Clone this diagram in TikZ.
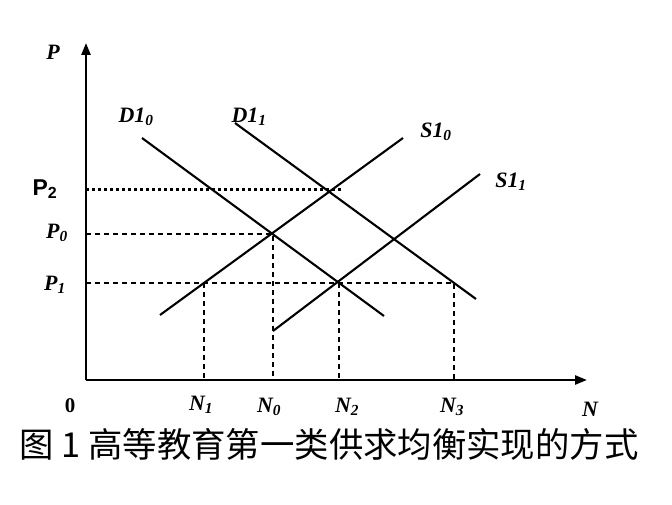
\documentclass[tikz,border=0pt]{standalone}
\usepackage{fontspec}
\setmainfont{Liberation Serif}
\newfontfamily\cjkfont{Noto Sans CJK SC}
\newfontfamily\lsans{Liberation Sans}
\usetikzlibrary{arrows.meta}
\begin{document}
\begin{tikzpicture}[x=1bp,y=-1bp,
  axisline/.style={line width=2.4bp,-{Triangle[length=12bp,width=9bp]}},
  curveline/.style={line width=2.1bp},
  guide/.style={line width=1.6bp,dash pattern=on 5bp off 4bp},
  dotguide/.style={line width=3bp,dash pattern=on 3bp off 3bp},
  lab/.style={font=\fontsize{22}{22}\selectfont\bfseries\itshape,inner sep=0pt},
  sublab/.style={font=\fontsize{23}{23}\selectfont\lsans\bfseries,inner sep=0pt},
  caption/.style={font=\fontsize{34.5}{34.5}\selectfont\cjkfont,inner sep=0pt}]
\useasboundingbox (0,0) rectangle (672,505);
\fill[white] (0,0) rectangle (672,505);
% axes
\coordinate (O) at (86,380);
\coordinate (Ytop) at (86,43);
\coordinate (Xend) at (587,380);
\draw[axisline] (O) -- (Ytop);
\draw[axisline] (O) -- (Xend);
% curves
\coordinate (D0a) at (142,138); \coordinate (D0b) at (384,316);
\coordinate (D1a) at (235,123); \coordinate (D1b) at (476,299);
\coordinate (S0a) at (160,315); \coordinate (S0b) at (403,138);
\coordinate (S1a) at (273,331); \coordinate (S1b) at (480,174);
\draw[curveline] (D0a) -- (D0b);
\draw[curveline] (D1a) -- (D1b);
\draw[curveline] (S0a) -- (S0b);
\draw[curveline] (S1a) -- (S1b);
% key points
\coordinate (A) at (204,283);
\coordinate (E0) at (273,234);
\coordinate (E2) at (339,283);
\coordinate (E3) at (454,283);
\coordinate (P2end) at (342,190);
\coordinate (yP0) at (86,234);
\coordinate (yP1) at (86,283);
\coordinate (yP2) at (86,190);
\coordinate (xN1) at (204,380);
\coordinate (xN0) at (273,380);
\coordinate (xN2) at (339,380);
\coordinate (xN3) at (454,380);
% guides
\draw[dotguide] (yP2) -- (P2end);
\draw[guide] (yP0) -- (E0) -- (xN0);
\draw[guide] (yP1) -- (E3) -- (xN3);
\draw[guide] (A) -- (xN1);
\draw[guide] (E2) -- (xN2);
% labels
\node[lab] (lP) at (53,52) {P};
\node[sublab] (lP2) at (45,189) {P\textsubscript{2}};
\node[lab] (lP0) at (57,233) {P\textsubscript{0}};
\node[lab] (lP1) at (55,285) {P\textsubscript{1}};
\node[font=\fontsize{21}{21}\selectfont\bfseries,inner sep=0pt] (l0) at (70,406) {0};
\node[lab] (lN1) at (201,405) {N\textsubscript{1}};
\node[lab] (lN0) at (269,407) {N\textsubscript{0}};
\node[lab] (lN2) at (347,407) {N\textsubscript{2}};
\node[lab] (lN3) at (452,407) {N\textsubscript{3}};
\node[lab] (lN) at (590,409) {N};
\node[lab] (lD0) at (136,117) {D1\textsubscript{0}};
\node[lab] (lD1) at (249,117) {D1\textsubscript{1}};
\node[lab] (lS0) at (436,132) {S1\textsubscript{0}};
\node[lab] (lS1) at (511,182) {S1\textsubscript{1}};
\node[caption] (cap) at (329,444) {图 1 高等教育第一类供求均衡实现的方式};
\end{tikzpicture}
\end{document}
